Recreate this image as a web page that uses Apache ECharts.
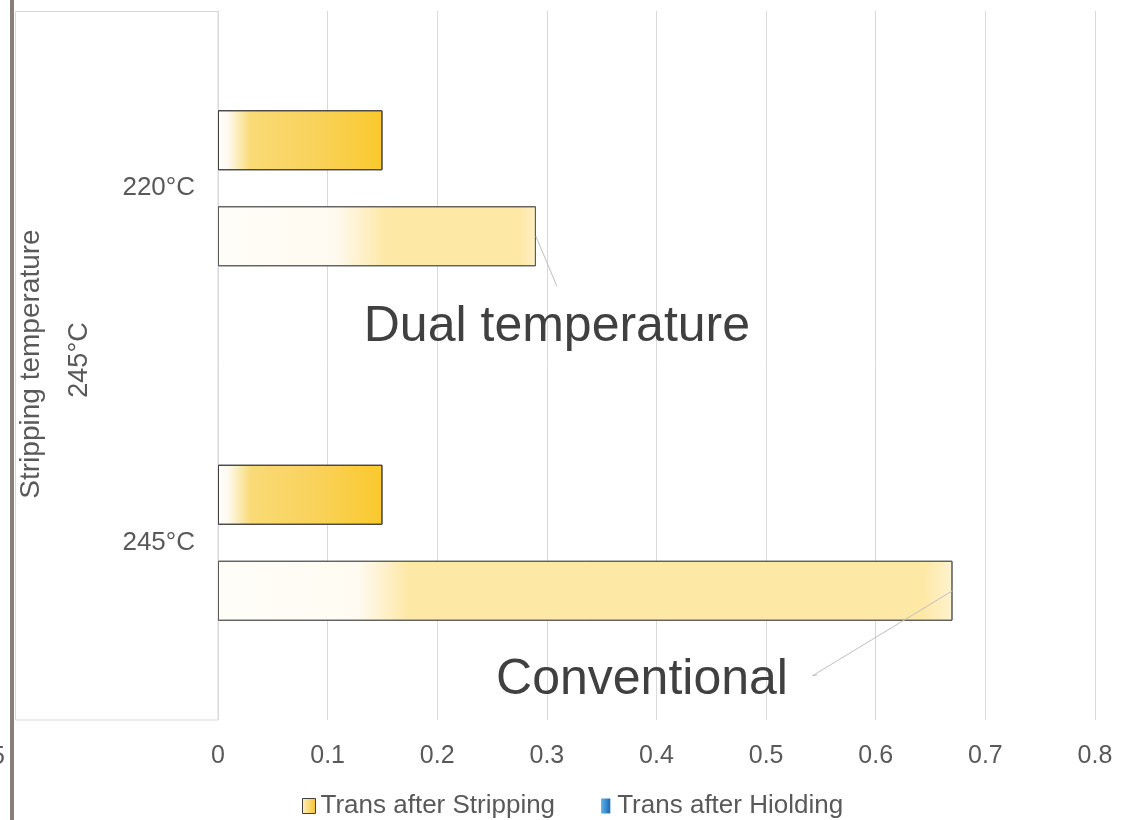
<!DOCTYPE html>
<html>
<head>
<meta charset="utf-8">
<script src="https://cdn.jsdelivr.net/npm/echarts@6/dist/echarts.min.js"></script>
<style>
html,body{margin:0;padding:0;background:#fff;}
#c{width:1123px;height:820px;}
</style>
</head>
<body>
<div id="c"></div>
<script>
// ---- data ----
const categories = ['220°C', '245°C'];
const seriesNames = ['Trans after Stripping', 'Trans after Hiolding'];
const stripping = [0.15, 0.15];
const holding = [0.29, 0.67];
const annotations = ['Dual temperature', 'Conventional'];
const yAxisTitle = 'Stripping temperature';
const yAxisSubTitle = '245°C';
const xMin = 0, xMax = 0.8, xStep = 0.1;

const FONT = 'Liberation Sans, Arial, sans-serif';
const TXT = '#595959';

function hGrad(stops) {
  return new echarts.graphic.LinearGradient(0, 0, 1, 0,
    stops.map(s => ({ offset: s[0], color: s[1] })));
}
const stripGrad = hGrad([[0, '#ffffff'], [0.06, '#fefaf0'], [0.2, '#f9da76'], [0.6, '#f9d25a'], [1, '#fac92e']]);
const holdGrads = [
  hGrad([[0, '#fffdf8'], [0.37, '#fffaf0'], [0.53, '#fee8a6'], [0.95, '#fee8a6'], [1, '#fff0c4']]),
  hGrad([[0, '#fffdf8'], [0.19, '#fffbf2'], [0.26, '#fee8a6'], [0.96, '#fee8a6'], [1, '#fff3cf']])
];
const legendYellow = hGrad([[0, '#fdf1c4'], [1, '#f7c02a']]);
const legendBlue = hGrad([[0, '#5fb2ea'], [1, '#1d68b0']]);

const chart = echarts.init(document.getElementById('c'), null, { renderer: 'canvas' });

const option = {
  animation: false,
  backgroundColor: '#ffffff',
  textStyle: { fontFamily: FONT },
  grid: { left: 218, right: 28, top: 11, bottom: 100, containLabel: false },
  legend: {
    left: 302, top: 793, padding: 0,
    itemWidth: 13, itemHeight: 15, itemGap: 46,
    textStyle: { fontSize: 26, color: TXT, fontFamily: FONT },
    data: [
      { name: seriesNames[0], icon: 'rect', itemStyle: { color: legendYellow, borderColor: '#404040', borderWidth: 1 } },
      { name: seriesNames[1], icon: 'path://M0,0h8v13h-8z', itemStyle: { color: legendBlue, borderWidth: 0 } }
    ]
  },
  xAxis: {
    type: 'value', min: xMin, max: xMax, interval: xStep,
    axisLine: { show: false }, axisTick: { show: false },
    splitLine: { show: true, lineStyle: { color: '#d9d9d9', width: 1 } },
    axisLabel: { fontSize: 25, color: TXT, margin: 24, fontFamily: FONT }
  },
  yAxis: {
    type: 'category', data: categories, inverse: true,
    axisLine: { show: false }, axisTick: { show: false },
    axisLabel: { fontSize: 26, color: TXT, margin: 23, fontFamily: FONT, padding: [3, 0, 0, 0] }
  },
  series: [
    {
      name: seriesNames[0], type: 'bar', barWidth: 60, barGap: '60%',
      itemStyle: { color: legendYellow, borderColor: '#404040', borderWidth: 1 },
      data: stripping.map(v => ({ value: v, itemStyle: { color: stripGrad, borderColor: '#404040', borderWidth: 1 } }))
    },
    {
      name: seriesNames[1], type: 'bar', barWidth: 60, barGap: '60%',
      itemStyle: { color: legendBlue, borderWidth: 0 },
      data: holding.map((v, i) => ({ value: v, itemStyle: { color: holdGrads[i], borderColor: '#5a5a5a', borderWidth: 1 } }))
    }
  ]
};
chart.setOption(option);

// annotations anchored to the end of the holding bars
const holdData = chart.getModel().getSeriesByIndex(1).getData();
function barEnd(i) {
  const l = holdData.getItemLayout(i);
  return [l.x + l.width, l.y + l.height / 2];
}
const e0 = barEnd(0), e1 = barEnd(1);
const graphics = [
  // left decoration bar
  { type: 'rect', shape: { x: 10, y: 0, width: 4, height: 820 }, style: { fill: '#8a7f78' }, z: 10 },
  // category label box
  { type: 'rect', shape: { x: 15.5, y: 11.5, width: 202.5, height: 708.5 }, style: { fill: 'none', stroke: '#d9d9d9', lineWidth: 1 }, z: 1 },
  { type: 'text', x: 31, y: 364, rotation: Math.PI / 2, style: { text: yAxisTitle, fontSize: 28, fontFamily: FONT, fill: TXT, align: 'center', verticalAlign: 'middle' }, z: 5 },
  { type: 'text', x: 80, y: 360, rotation: Math.PI / 2, style: { text: yAxisSubTitle, fontSize: 27, fontFamily: FONT, fill: TXT, align: 'center', verticalAlign: 'middle' }, z: 5 },
  { type: 'text', x: 5, y: 757, style: { text: '5', fontSize: 25, fontFamily: FONT, fill: TXT, align: 'right', verticalAlign: 'middle' }, z: 5 },
  // leader lines
  { type: 'polyline', shape: { points: [e0, [e0[0] + 21, e0[1] + 50]] }, style: { stroke: '#bfbfbf', lineWidth: 1, fill: 'none' }, z: 6 },
  { type: 'polyline', shape: { points: [e1, [e1[0] - 140, e1[1] + 85], [e1[0] - 135, e1[1] + 84]] }, style: { stroke: '#bfbfbf', lineWidth: 1, fill: 'none' }, z: 6 },
  // annotation texts
  { type: 'text', x: e0[0] + 21, y: e0[1] + 91, style: { text: annotations[0], fontSize: 50, fontFamily: FONT, fill: '#404040', align: 'center', verticalAlign: 'middle' }, z: 6 },
  { type: 'text', x: e1[0] - 310.5, y: e1[1] + 89, style: { text: annotations[1], fontSize: 50, fontFamily: FONT, fill: '#404040', align: 'center', verticalAlign: 'middle' }, z: 6 }
];
chart.setOption({ graphic: graphics });
</script>
</body>
</html>
